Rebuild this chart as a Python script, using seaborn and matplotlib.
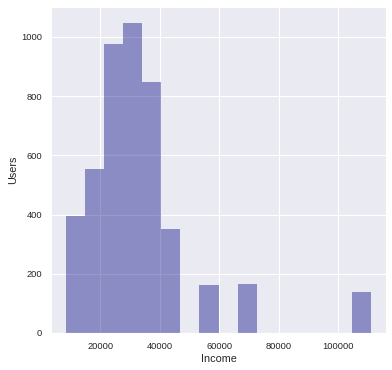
import numpy as np
import matplotlib
matplotlib.use('Agg')
import matplotlib.pyplot as plt
import seaborn as sns

sns.set_style('darkgrid')
plt.rcParams['font.family'] = ['Liberation Sans', 'DejaVu Sans']

# histogram bins (Income) and user counts
bin_edges = [8500 + 6400 * i for i in range(17)]
counts = [394, 553, 975, 1048, 847, 350, 0, 162, 0, 165, 0, 0, 0, 0, 0, 138]

centers = [(a + b) / 2 for a, b in zip(bin_edges[:-1], bin_edges[1:])]

fig, ax = plt.subplots(figsize=(3.92, 3.70), dpi=100)
fig.subplots_adjust(left=0.130, right=0.985, top=0.981, bottom=0.100)

sns.histplot(x=centers, weights=counts, bins=bin_edges, color='navy',
             alpha=0.4, linewidth=0, ax=ax)

ax.set_xlabel('Income', fontsize=7.8, color='.15', labelpad=2)
ax.set_ylabel('Users', fontsize=7.8, color='.15', labelpad=2)
ax.tick_params(labelsize=6.7, colors='.15', pad=3)
ax.set_yticks([0, 200, 400, 600, 800, 1000])
ax.set_xticks([20000, 40000, 60000, 80000, 100000])

fig.savefig('out.png', dpi=100)
